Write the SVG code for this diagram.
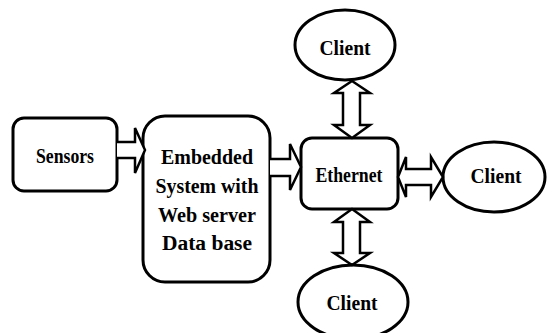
<svg xmlns="http://www.w3.org/2000/svg" width="548" height="333" viewBox="0 0 548 333">
<style>
.box{fill:#fff;stroke:#000;stroke-width:3}
.arr{fill:#fff;stroke:#000;stroke-width:2.5;stroke-linejoin:miter}
.t{font-family:'Liberation Serif','Times New Roman',serif;font-weight:700;font-size:20px;fill:#000;text-anchor:middle}
</style>
<rect width="548" height="333" fill="#fff"/>
<g id="sensors">
<rect class="box" x="13" y="118" width="104" height="73" rx="11"/>
<text class="t" x="65" y="163" textLength="58" lengthAdjust="spacingAndGlyphs">Sensors</text>
</g>
<g id="embedded">
<rect class="box" x="143" y="116" width="127" height="166" rx="22"/>
<text class="t" x="207" y="164" textLength="92" lengthAdjust="spacingAndGlyphs">Embedded</text>
<text class="t" x="207" y="193" textLength="103" lengthAdjust="spacingAndGlyphs">System with</text>
<text class="t" x="207" y="222" textLength="98" lengthAdjust="spacingAndGlyphs">Web server</text>
<text class="t" x="207" y="250" textLength="90" lengthAdjust="spacingAndGlyphs">Data base</text>
</g>
<g id="ethernet">
<rect class="box" x="301" y="138" width="97" height="71" rx="11"/>
<text class="t" x="349" y="182" textLength="67" lengthAdjust="spacingAndGlyphs">Ethernet</text>
</g>
<g id="client-top">
<ellipse class="box" cx="345" cy="45" rx="50" ry="35"/>
<text class="t" x="345" y="55" textLength="51" lengthAdjust="spacingAndGlyphs">Client</text>
</g>
<g id="client-right">
<ellipse class="box" cx="494" cy="177" rx="51" ry="35"/>
<text class="t" x="496" y="183" textLength="51" lengthAdjust="spacingAndGlyphs">Client</text>
</g>
<g id="client-bottom">
<ellipse class="box" cx="353" cy="302" rx="55" ry="37"/>
<text class="t" x="352" y="310" textLength="51" lengthAdjust="spacingAndGlyphs">Client</text>
</g>
<g id="connectors">
<polyline class="arr" points="117,142 135,142 135,128 145,150 135,173 135,158 117,158"/>
<polyline class="arr" points="270,159 290,159 290,144 301,167 290,190 290,176 270,176"/>
<polygon class="arr" points="398,177 406,157 406,169 431,169 431,157 443,177 431,197 431,185 406,185 406,197"/>
<polygon class="arr" points="352,81 370,93 360,93 360,125 370,125 352,138 334,125 343,125 343,93 334,93"/>
<polygon class="arr" points="352,209 370,222 360,222 360,253 370,253 352,265 334,253 343,253 343,222 334,222"/>
</g>
</svg>
